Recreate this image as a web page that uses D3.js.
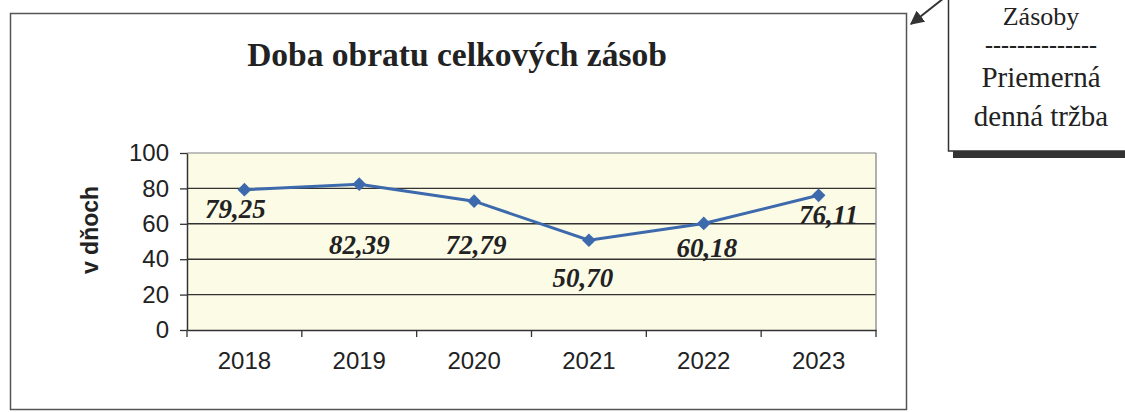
<!doctype html>
<html>
<head>
<meta charset="utf-8" />
<title>Doba obratu celkových zásob</title>
<script src="https://cdn.jsdelivr.net/npm/d3@7"></script>
<style>
  body { margin: 0; background: #fff; }
  svg { display: block; }
</style>
</head>
<body>
<script>
// data
var years = ["2018", "2019", "2020", "2021", "2022", "2023"];
var days = [79.25, 82.39, 72.79, 50.70, 60.18, 76.11];
var labels = ["79,25", "82,39", "72,79", "50,70", "60,18", "76,11"];
var yTicks = [0, 20, 40, 60, 80, 100];

// where each value label sits relative to its point (pixels)
var labelDx = [-9, 0, 2, -6, 3, 10];
var labelDy = [28, 70, 53, 47, 34, 29];

var w = 1125, h = 412;
var plot = {left: 187, right: 876, top: 153, bottom: 330};

var svg = d3.select("body").append("svg")
    .attr("width", w)
    .attr("height", h);

// chart frame
svg.append("rect")
    .attr("x", 10.5).attr("y", 13.5)
    .attr("width", 896).attr("height", 396)
    .attr("fill", "#fff")
    .attr("stroke", "#555")
    .attr("stroke-width", 1.5);

svg.append("text")
    .attr("x", 457).attr("y", 66)
    .attr("text-anchor", "middle")
    .attr("font-family", "'Liberation Serif', 'Times New Roman', serif")
    .attr("font-weight", "bold")
    .attr("font-size", "33.5px")
    .attr("fill", "#222")
    .text("Doba obratu celkových zásob");

var x = d3.scaleBand().domain(years).range([plot.left, plot.right]);
var y = d3.scaleLinear().domain([0, 100]).range([plot.bottom, plot.top]);

// plot area
svg.append("rect")
    .attr("x", plot.left).attr("y", y(100))
    .attr("width", plot.right - plot.left)
    .attr("height", y(0) - y(100))
    .attr("fill", "#fcfbe6");

svg.append("g").selectAll("line")
    .data(yTicks.filter(function(d){ return d > 0; }))
    .enter().append("line")
    .attr("x1", plot.left).attr("x2", plot.right)
    .attr("y1", function(d){ return y(d); })
    .attr("y2", function(d){ return y(d); })
    .attr("stroke", function(d){ return d == 100 ? "#aaa" : "#333"; })
    .attr("stroke-width", 1.4);

svg.append("line")
    .attr("x1", plot.right).attr("x2", plot.right)
    .attr("y1", y(100)).attr("y2", y(0))
    .attr("stroke", "#888").attr("stroke-width", 1.3);

var yAxis = svg.append("g")
    .attr("transform", "translate(" + plot.left + ",0)")
    .call(d3.axisLeft(y).tickValues(yTicks).tickSize(7).tickPadding(11).tickSizeOuter(0));

var xAxis = svg.append("g")
    .attr("transform", "translate(0," + plot.bottom + ")")
    .call(d3.axisBottom(x).tickSize(0).tickPadding(22).tickSizeOuter(0));

// category separators on the x axis
xAxis.selectAll(".sep")
    .data(years.concat(["end"]))
    .enter().append("line")
    .attr("class", "sep")
    .attr("x1", function(d, i){ return plot.left + i * x.step(); })
    .attr("x2", function(d, i){ return plot.left + i * x.step(); })
    .attr("y1", 0).attr("y2", 7)
    .attr("stroke", "#333").attr("stroke-width", 1.3);

[yAxis, xAxis].forEach(function(a){
    a.select(".domain").attr("stroke", "#333").attr("stroke-width", 1.5);
    a.selectAll(".tick line").attr("stroke", "#333").attr("stroke-width", 1.3);
    a.selectAll("text")
        .attr("font-family", "'Liberation Sans', Arial, sans-serif")
        .attr("font-size", "24px")
        .attr("fill", "#222");
});

svg.append("text")
    .attr("transform", "translate(98,230) rotate(-90)")
    .attr("text-anchor", "middle")
    .attr("font-family", "'Liberation Sans', Arial, sans-serif")
    .attr("font-weight", "bold")
    .attr("font-size", "23px")
    .attr("fill", "#222")
    .text("v dňoch");

// series
var cx = function(d, i){ return x(years[i]) + x.bandwidth() / 2; };

svg.append("path")
    .datum(days)
    .attr("fill", "none")
    .attr("stroke", "#3d69ad")
    .attr("stroke-width", 3)
    .attr("d", d3.line().x(cx).y(function(d){ return y(d); }));

svg.append("g").selectAll("path")
    .data(days)
    .enter().append("path")
    .attr("d", d3.symbol().type(d3.symbolDiamond2).size(120))
    .attr("transform", function(d, i){ return "translate(" + cx(d, i) + "," + y(d) + ")"; })
    .attr("fill", "#3d69ad");

svg.append("g").selectAll("text")
    .data(days)
    .enter().append("text")
    .attr("x", function(d, i){ return cx(d, i) + labelDx[i]; })
    .attr("y", function(d, i){ return y(d) + labelDy[i]; })
    .attr("text-anchor", "middle")
    .attr("font-family", "'Liberation Serif', 'Times New Roman', serif")
    .attr("font-weight", "bold")
    .attr("font-style", "italic")
    .attr("font-size", "27px")
    .attr("fill", "#222")
    .text(function(d, i){ return labels[i]; });

// formula callout
svg.append("rect")
    .attr("x", 953).attr("y", -10)
    .attr("width", 200).attr("height", 168)
    .attr("fill", "#333");
svg.append("rect")
    .attr("x", 948.5).attr("y", -10)
    .attr("width", 200).attr("height", 161)
    .attr("fill", "#fff")
    .attr("stroke", "#333").attr("stroke-width", 1.5);

var callout = ["Zásoby", "--------------", "Priemerná", "denná tržba"];
var calloutY = [25, 53, 87, 126];
var calloutSize = [26, 24, 29, 29];
svg.append("g").selectAll("text")
    .data(callout)
    .enter().append("text")
    .attr("x", 1041)
    .attr("y", function(d, i){ return calloutY[i]; })
    .attr("text-anchor", "middle")
    .attr("font-family", "'Liberation Serif', 'Times New Roman', serif")
    .attr("font-size", function(d, i){ return calloutSize[i] + "px"; })
    .attr("font-weight", function(d, i){ return i == 1 ? "bold" : "normal"; })
    .attr("fill", "#222")
    .text(function(d){ return d; });

svg.append("defs").append("marker")
    .attr("id", "head")
    .attr("viewBox", "0 0 10 10")
    .attr("refX", 9).attr("refY", 5)
    .attr("markerWidth", 7).attr("markerHeight", 7)
    .attr("orient", "auto")
    .append("path").attr("d", "M0,0L10,5L0,10Z").attr("fill", "#333");

svg.append("line")
    .attr("x1", 944).attr("y1", -2)
    .attr("x2", 911).attr("y2", 24)
    .attr("stroke", "#333").attr("stroke-width", 2)
    .attr("marker-end", "url(#head)");
</script>
</body>
</html>
